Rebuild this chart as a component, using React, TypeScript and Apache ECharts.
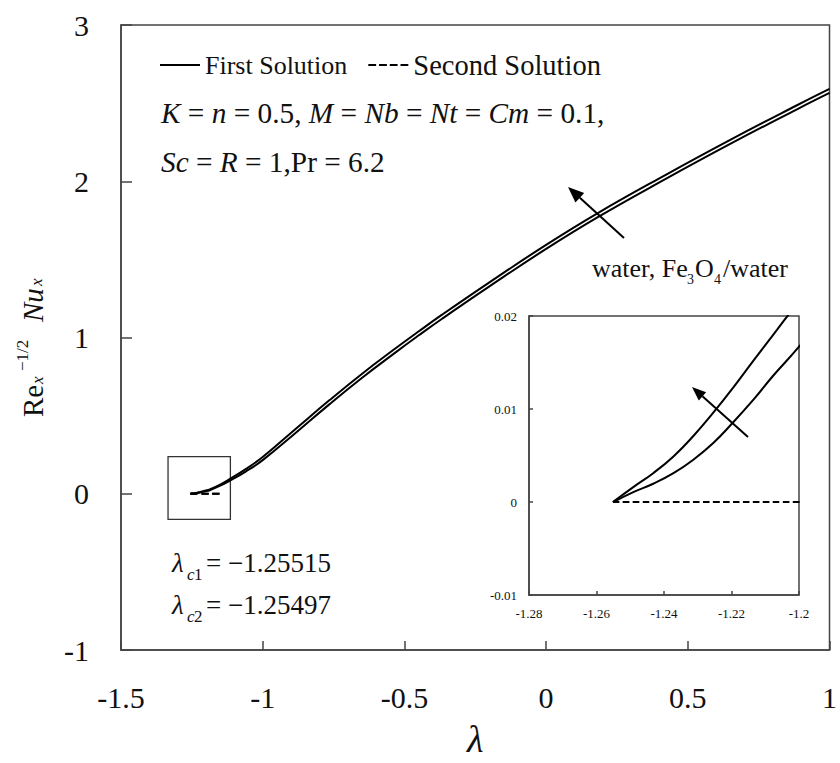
import React, { useEffect, useRef } from 'react';
import * as echarts from 'echarts';

const FONT = 'Liberation Serif';

// First solution, Fe3O4/water (upper curve)
const lambdaFe = [-1.25515, -1.2491, -1.2432, -1.2372, -1.2313, -1.2254, -1.2195, -1.2135, -1.2076, -1.2032, -1.187, -1.15, -1.117, -1.06, -1.0, -0.882, -0.765, -0.648, -0.531, -0.449, -0.367, -0.2, 0.0, 0.184, 0.419, 0.653, 0.887, 1.0];
const nuFe = [0, 0.0016, 0.0031, 0.0049, 0.0071, 0.0096, 0.0123, 0.0152, 0.018, 0.0201, 0.0275, 0.0585, 0.093, 0.158, 0.235, 0.418, 0.598, 0.77, 0.931, 1.04, 1.146, 1.353, 1.593, 1.798, 2.038, 2.268, 2.488, 2.591];

// First solution, water (lower curve)
const lambdaWater = [-1.25497, -1.2491, -1.2432, -1.2372, -1.2313, -1.2254, -1.2195, -1.2135, -1.2076, -1.2, -1.187, -1.15, -1.117, -1.06, -1.0, -0.882, -0.765, -0.648, -0.531, -0.449, -0.367, -0.2, 0.0, 0.184, 0.419, 0.653, 0.887, 1.0];
const nuWater = [0, 0.00106, 0.00196, 0.0031, 0.00455, 0.00634, 0.00857, 0.011, 0.0136, 0.0167, 0.0226, 0.0515, 0.083, 0.142, 0.215, 0.392, 0.572, 0.744, 0.905, 1.014, 1.12, 1.327, 1.567, 1.772, 2.012, 2.242, 2.462, 2.565];

// Second solutions
const lambdaSecondFe = [-1.25515, -1.23, -1.2, -1.17, -1.14];
const nuSecondFe = [0, 0, 0, 0, 0];
const lambdaSecondWater = [-1.25497, -1.23, -1.2, -1.17, -1.14];
const nuSecondWater = [0, 0, 0, 0, 0];

// Zoom box marking the inset region on the main plot
const zoomBoxLambda = [-1.334, -1.114];
const zoomBoxNu = [-0.164, 0.238];

const legendNames = ['First Solution', 'Second Solution'];

const pairs = (xs: number[], ys: number[]) => xs.map((x, i) => [x, ys[i]]);

function arrow(tail: number[], tip: number[], len: number, hw: number) {
  const dx = tip[0] - tail[0];
  const dy = tip[1] - tail[1];
  const L = Math.hypot(dx, dy);
  const ux = dx / L, uy = dy / L;
  const bx = tip[0] - ux * len, by = tip[1] - uy * len;
  const nx = -uy, ny = ux;
  return [
    { type: 'line', shape: { x1: tail[0], y1: tail[1], x2: bx, y2: by }, style: { stroke: '#000', lineWidth: 2 }, silent: true },
    { type: 'polygon', shape: { points: [tip, [bx + nx * hw, by + ny * hw], [bx - nx * hw, by - ny * hw]] }, style: { fill: '#000' }, silent: true },
  ];
}

export default function App() {
  const ref = useRef<HTMLDivElement>(null);
  useEffect(() => {
    if (!ref.current) return;
    const chart = echarts.init(ref.current, undefined, { renderer: 'svg' });
    const axisColor = '#444';
    const lineCommon = { type: 'line', showSymbol: false, symbol: 'none', smooth: 0.45, silent: true };
    const mainText = (text: string, x: number, y: number, size = 26, italic = false) => ({
      type: 'text', x, y, silent: true,
      style: { text, fontSize: size, fontFamily: FONT, fontStyle: italic ? 'italic' : 'normal', fill: '#111', align: 'left', verticalAlign: 'middle' },
    });
    const EQ = 29.3;
    const it = { fontStyle: 'italic', fontSize: EQ, fontFamily: FONT, fill: '#111' };
    const rm = { fontSize: EQ, fontFamily: FONT, fill: '#111' };
    const axisBase = (fs: number, margin: number, tickLen: number) => ({
      axisLine: { show: true, onZero: false, lineStyle: { color: axisColor, width: 1.5 } },
      axisTick: { show: true, inside: true, length: tickLen, lineStyle: { color: axisColor, width: 1.5 } },
      axisLabel: { fontSize: fs, fontFamily: FONT, color: '#111', margin },
      splitLine: { show: false },
    });
    const rt = (text: string, x: number, y: number, size: number, italic = false) => ({
      type: 'text', x, y,
      style: { text, fontSize: size, fontStyle: italic ? 'italic' : 'normal', fontFamily: FONT, fill: '#111', align: 'left', verticalAlign: 'middle' },
    });

    const option: any = {
      animation: false,
      backgroundColor: '#fff',
      legend: {
        data: [
          { name: legendNames[0], icon: 'path://M0 0H40V2H0Z', textStyle: { fontSize: 26, lineHeight: 32, fontFamily: FONT, color: '#111' } },
          { name: legendNames[1], icon: 'path://M0 0H8V2H0Z M11 0H19V2H11Z M22 0H30V2H22Z M33 0H41V2H33Z', textStyle: { fontSize: 28.5, lineHeight: 32, fontFamily: FONT, color: '#111' } },
        ],
        left: 160, top: 49, padding: 0,
        itemWidth: 40, itemHeight: 2, itemGap: 21,
        textStyle: { fontSize: 26, lineHeight: 32, fontFamily: FONT, color: '#111' },
        selectedMode: false,
      },
      grid: [
        { left: 121, top: 25, width: 711, height: 629, show: true, borderColor: axisColor, borderWidth: 1.5, backgroundColor: 'transparent' },
        { left: 529, top: 316, width: 270, height: 279, show: true, borderColor: axisColor, borderWidth: 1.5, backgroundColor: '#fff' },
      ],
      xAxis: [
        {
          gridIndex: 0, type: 'value', min: -1.5, max: 1, interval: 0.5,
          ...axisBase(30, 32, 9),
          name: 'λ', nameLocation: 'middle', nameGap: 70,
          nameTextStyle: { fontSize: 38, fontStyle: 'italic', fontFamily: FONT, color: '#111' },
        },
        { gridIndex: 1, type: 'value', min: -1.28, max: -1.2, interval: 0.02, ...axisBase(13, 12, 4) },
      ],
      yAxis: [
        { gridIndex: 0, type: 'value', min: -1, max: 3, interval: 1, ...axisBase(30, 32, 11) },
        { gridIndex: 1, type: 'value', min: -0.01, max: 0.02, interval: 0.01, ...axisBase(13, 12, 4) },
      ],
      series: [
        {
          ...lineCommon, name: 'First Solution', xAxisIndex: 0, yAxisIndex: 0,
          data: pairs(lambdaFe, nuFe), lineStyle: { color: '#000', width: 2 }, itemStyle: { color: '#000' },
          markArea: {
            silent: true,
            itemStyle: { color: 'rgba(0,0,0,0)', borderColor: '#333', borderWidth: 1.3 },
            data: [[{ coord: [zoomBoxLambda[0], zoomBoxNu[1]] }, { coord: [zoomBoxLambda[1], zoomBoxNu[0]] }]],
          },
        },
        { ...lineCommon, name: 'First Solution', xAxisIndex: 0, yAxisIndex: 0, data: pairs(lambdaWater, nuWater), lineStyle: { color: '#000', width: 2 }, itemStyle: { color: '#000' } },
        { ...lineCommon, name: 'Second Solution', xAxisIndex: 0, yAxisIndex: 0, data: pairs(lambdaSecondFe, nuSecondFe), lineStyle: { color: '#000', width: 2, type: [7, 4] }, itemStyle: { color: '#000' } },
        { ...lineCommon, name: 'Second Solution', xAxisIndex: 0, yAxisIndex: 0, data: pairs(lambdaSecondWater, nuSecondWater), lineStyle: { color: '#000', width: 2, type: [7, 4] }, itemStyle: { color: '#000' } },
        { ...lineCommon, name: 'inset Fe', xAxisIndex: 1, yAxisIndex: 1, data: pairs(lambdaFe, nuFe), lineStyle: { color: '#000', width: 2 } },
        { ...lineCommon, name: 'inset water', xAxisIndex: 1, yAxisIndex: 1, data: pairs(lambdaWater, nuWater), lineStyle: { color: '#000', width: 2 } },
        { ...lineCommon, name: 'inset second Fe', xAxisIndex: 1, yAxisIndex: 1, data: pairs(lambdaSecondFe, nuSecondFe), lineStyle: { color: '#000', width: 2, type: [6, 4] } },
        { ...lineCommon, name: 'inset second water', xAxisIndex: 1, yAxisIndex: 1, data: pairs(lambdaSecondWater, nuSecondWater), lineStyle: { color: '#000', width: 2, type: [6, 4] } },
      ],
      graphic: [
        {
          type: 'text', x: 161, y: 113, silent: true,
          style: {
            text: '{i|K} = {i|n} = 0.5, {i|M} = {i|Nb} = {i|Nt} = {i|Cm} = 0.1,',
            rich: { i: it, r: rm }, fontSize: EQ, fontFamily: FONT, fill: '#111', align: 'left', verticalAlign: 'middle',
          },
        },
        {
          type: 'text', x: 161, y: 162, silent: true,
          style: {
            text: '{i|Sc} = {i|R} = 1,Pr = 6.2',
            rich: { i: it, r: rm }, fontSize: EQ, fontFamily: FONT, fill: '#111', align: 'left', verticalAlign: 'middle',
          },
        },
        // water, Fe3O4/water
        mainText('water, Fe', 592, 268, 26),
        mainText('3', 687, 279, 14),
        mainText('O', 695, 268, 26),
        mainText('4', 714, 279, 14),
        mainText('/water', 723, 268, 26),
        // critical values
        mainText('λ', 172, 563, 27, true),
        mainText('c', 187, 574, 17, true),
        mainText('1', 194, 574, 17),
        mainText('= −1.25515', 206, 563, 27),
        mainText('λ', 172, 605, 27, true),
        mainText('c', 187, 616, 17, true),
        mainText('2', 194, 616, 17),
        mainText('= −1.25497', 206, 605, 27),
        // y axis title (rotated)
        {
          type: 'group', x: 0, y: 417, rotation: Math.PI / 2, silent: true,
          children: [
            rt('Re', 0, 33, 29),
            rt('x', 33, 37, 17, true),
            rt('−1/2', 46, 22, 17),
            rt('Nu', 95, 33, 29, true),
            rt('x', 131, 36, 17, true),
          ],
        },
        ...arrow([624, 238], [568, 187], 16, 6.5),
        ...arrow([748, 437], [692, 387], 14, 5.5),
      ],
    };
    chart.setOption(option);
    return () => chart.dispose();
  }, []);
  return <div ref={ref} style={{ position: 'fixed', left: 0, top: 0, width: 840, height: 763, background: '#fff' }} />;
}
